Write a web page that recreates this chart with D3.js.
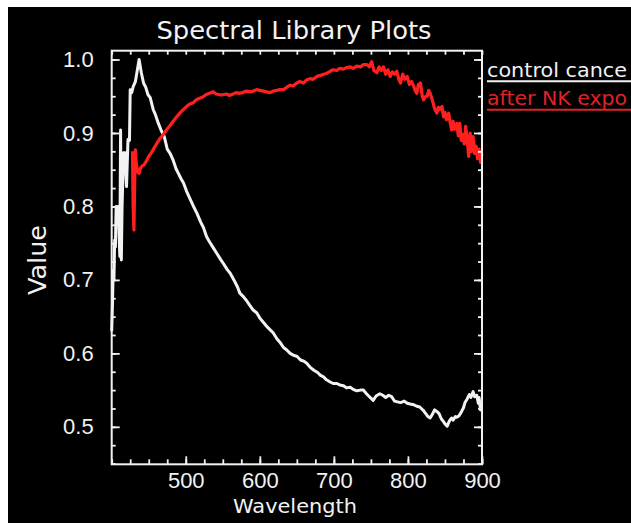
<!DOCTYPE html>
<html>
<head>
<meta charset="utf-8">
<script src="https://cdn.jsdelivr.net/npm/d3@7.9.0/dist/d3.min.js"></script>
<style>
  html, body { margin: 0; padding: 0; background: #fff; }
  svg { display: block; font-family: "DejaVu Sans", sans-serif; }
</style>
</head>
<body>
<svg id="chart" width="631" height="523"></svg>
<script>
// --- data ---
const xMajorTicks = [500, 600, 700, 800, 900];
const yMajorTicks = [0.5, 0.6, 0.7, 0.8, 0.9, 1.0];
const seriesNames = ['control cance', 'after NK expo'];

// control (white) : [wavelength, value]
const controlSeries = [
  [400, 0.63], [401, 0.665], [402, 0.713], [403, 0.70], [404, 0.754], [405, 0.745],
  [406, 0.80], [407, 0.785], [409, 0.80], [410, 0.76], [411, 0.732], [412, 0.904],
  [413, 0.727], [414, 0.80], [416, 0.873], [418, 0.873], [420, 0.827], [422, 0.891],
  [424, 0.89], [425, 0.959], [427, 0.955], [429, 0.963], [432, 0.97], [434, 0.982],
  [437, 1.0], [440, 0.982], [443, 0.968], [446, 0.962], [449, 0.952], [452, 0.948],
  [456, 0.932], [459, 0.925], [463, 0.913], [467, 0.903], [471, 0.895], [475, 0.878],
  [479, 0.872], [483, 0.863], [487, 0.851], [490, 0.845], [494, 0.837], [497, 0.832],
  [501, 0.821], [505, 0.812], [510, 0.801], [515, 0.791], [520, 0.779], [524, 0.771],
  [528, 0.759], [532, 0.752], [537, 0.744], [542, 0.736], [547, 0.728], [551, 0.722],
  [556, 0.714], [560, 0.709], [565, 0.700], [570, 0.690], [573, 0.682], [577, 0.678],
  [582, 0.672], [586, 0.666], [591, 0.659], [596, 0.655], [600, 0.648], [605, 0.642],
  [610, 0.636], [614, 0.632], [618, 0.628], [623, 0.620], [628, 0.614], [632, 0.608],
  [636, 0.605], [641, 0.600], [646, 0.597], [650, 0.596], [655, 0.591], [660, 0.589],
  [663, 0.587], [668, 0.581], [673, 0.577], [678, 0.574], [682, 0.570], [686, 0.568],
  [690, 0.564], [695, 0.561], [699, 0.559], [704, 0.559], [708, 0.557], [713, 0.556],
  [717, 0.553], [722, 0.554], [726, 0.551], [731, 0.549], [736, 0.550], [740, 0.550],
  [744, 0.545], [748, 0.541], [751, 0.538], [753, 0.536], [757, 0.542], [762, 0.545],
  [766, 0.543], [770, 0.540], [774, 0.543], [778, 0.541], [782, 0.535], [786, 0.534],
  [790, 0.533], [795, 0.535], [799, 0.532], [803, 0.531], [808, 0.530], [812, 0.528],
  [816, 0.527], [819, 0.524], [821, 0.522], [824, 0.518], [827, 0.514], [830, 0.512],
  [833, 0.517], [836, 0.523], [839, 0.521], [842, 0.518], [845, 0.511], [848, 0.507],
  [850, 0.504], [853, 0.501], [856, 0.508], [859, 0.512], [861, 0.509], [864, 0.514],
  [866, 0.513], [869, 0.515], [872, 0.520], [875, 0.526], [877, 0.533], [880, 0.538],
  [883, 0.544], [885, 0.540], [888, 0.548], [890, 0.541], [893, 0.543], [895, 0.532],
  [896, 0.540], [898, 0.523], [900, 0.525]
];

// after NK exposure (red) : [wavelength, value]
const nkSeries = [
  [428, 0.875], [429, 0.80], [430, 0.768], [431, 0.83], [432, 0.877], [433, 0.86],
  [435, 0.847], [437, 0.845], [439, 0.852], [441, 0.855], [444, 0.857], [447, 0.862],
  [450, 0.868], [453, 0.872], [457, 0.879], [461, 0.886], [465, 0.892], [469, 0.897],
  [474, 0.904], [478, 0.909], [483, 0.916], [487, 0.921], [492, 0.927], [496, 0.931],
  [501, 0.936], [505, 0.939], [510, 0.941], [514, 0.945], [518, 0.947], [523, 0.949],
  [527, 0.952], [532, 0.954], [537, 0.956], [541, 0.953], [546, 0.952], [550, 0.952],
  [555, 0.953], [559, 0.951], [564, 0.953], [568, 0.955], [573, 0.954], [577, 0.955],
  [582, 0.957], [587, 0.956], [591, 0.957], [596, 0.959], [600, 0.958], [605, 0.957],
  [609, 0.956], [614, 0.955], [618, 0.957], [623, 0.958], [627, 0.959], [632, 0.959],
  [636, 0.962], [641, 0.965], [645, 0.964], [650, 0.968], [654, 0.970], [659, 0.968],
  [663, 0.972], [668, 0.974], [672, 0.973], [677, 0.977], [681, 0.978], [686, 0.980],
  [690, 0.981], [695, 0.984], [699, 0.986], [704, 0.985], [708, 0.988], [713, 0.987],
  [717, 0.989], [722, 0.990], [726, 0.988], [731, 0.991], [736, 0.990], [740, 0.993],
  [745, 0.993], [748, 0.990], [751, 0.997], [754, 0.985], [758, 0.982], [761, 0.990],
  [764, 0.985], [767, 0.990], [770, 0.980], [773, 0.986], [776, 0.977], [779, 0.983],
  [782, 0.980], [785, 0.984], [788, 0.972], [790, 0.968], [793, 0.980], [796, 0.973],
  [799, 0.977], [802, 0.966], [805, 0.970], [808, 0.963], [810, 0.957], [812, 0.954],
  [814, 0.966], [817, 0.968], [819, 0.952], [821, 0.945], [824, 0.950], [826, 0.950],
  [828, 0.958], [830, 0.954], [832, 0.948], [834, 0.941], [836, 0.933], [839, 0.927],
  [841, 0.935], [843, 0.932], [846, 0.936], [848, 0.922], [850, 0.928], [852, 0.918],
  [855, 0.927], [857, 0.914], [859, 0.904], [861, 0.916], [863, 0.905], [866, 0.913],
  [868, 0.896], [870, 0.913], [872, 0.890], [874, 0.898], [876, 0.885], [878, 0.909],
  [880, 0.892], [882, 0.868], [884, 0.900], [886, 0.875], [888, 0.895], [890, 0.872],
  [892, 0.882], [894, 0.865], [896, 0.878], [898, 0.860], [900, 0.872]
];

const WHITE = '#f2f2f2';
const RED = '#ff1f1f';

const svg = d3.select('#chart');

// black canvas (white margin top/left like the screenshot)
svg.append('rect').attr('x', 8).attr('y', 7).attr('width', 631 - 8).attr('height', 523 - 7)
  .attr('fill', '#000');

const plot = { left: 111.7, right: 482, top: 50.7, bottom: 464.3 };

const x = d3.scaleLinear().domain([400, 900]).range([plot.left, plot.right]);
const y = d3.scaleLinear().domain([0.449, 1.012]).range([plot.bottom, plot.top]);

const xMinor = d3.range(400, 901, 25);
const yMinor = d3.range(0.45, 1.0125, 0.025);

// --- lines ---
const line = d3.line().x((d) => x(d[0])).y((d) => y(d[1]));

svg.append('path').datum(controlSeries)
  .attr('d', line).attr('fill', 'none')
  .attr('stroke', WHITE).attr('stroke-width', 3).attr('stroke-linejoin', 'round');

svg.append('path').datum(nkSeries)
  .attr('d', line).attr('fill', 'none')
  .attr('stroke', RED).attr('stroke-width', 3.2).attr('stroke-linejoin', 'round');

// --- axes (ticks drawn inward, mirrored on top/right) ---
function styleAxis(g) {
  g.select('.domain').remove();
  g.selectAll('line').attr('stroke', WHITE).attr('stroke-width', 1.8);
  g.selectAll('text').attr('fill', WHITE);
}

svg.append('g').attr('transform', `translate(0,${plot.bottom})`)
  .call(d3.axisBottom(x).tickValues(xMinor).tickSize(-5).tickFormat(''))
  .call(styleAxis);
svg.append('g').attr('transform', `translate(0,${plot.bottom})`)
  .call(d3.axisBottom(x).tickValues(xMajorTicks).tickSize(-8).tickPadding(8)
    .tickFormat(d3.format('d')))
  .call(styleAxis)
  .call((g) => g.selectAll('text').attr('font-size', 22).attr('dy', '0.71em'));

svg.append('g').attr('transform', `translate(0,${plot.top})`)
  .call(d3.axisTop(x).tickValues(xMinor).tickSize(-4).tickFormat(''))
  .call(styleAxis);

svg.append('g').attr('transform', `translate(${plot.left},0)`)
  .call(d3.axisLeft(y).tickValues(yMinor).tickSize(-4).tickFormat(''))
  .call(styleAxis);
svg.append('g').attr('transform', `translate(${plot.left},0)`)
  .call(d3.axisLeft(y).tickValues(yMajorTicks).tickSize(-8).tickPadding(18)
    .tickFormat(d3.format('.1f')))
  .call(styleAxis)
  .call((g) => g.selectAll('text').attr('font-size', 22));

svg.append('g').attr('transform', `translate(${plot.right},0)`)
  .call(d3.axisRight(y).tickValues(yMinor).tickSize(-4).tickFormat(''))
  .call(styleAxis);
svg.append('g').attr('transform', `translate(${plot.right},0)`)
  .call(d3.axisRight(y).tickValues(yMajorTicks).tickSize(-8).tickFormat(''))
  .call(styleAxis);

// frame
svg.append('rect')
  .attr('x', plot.left).attr('y', plot.top)
  .attr('width', plot.right - plot.left).attr('height', plot.bottom - plot.top)
  .attr('fill', 'none').attr('stroke', WHITE).attr('stroke-width', 2);

// --- titles ---
svg.append('text')
  .attr('x', 294).attr('y', 38.5).attr('text-anchor', 'middle')
  .attr('font-size', 24).attr('fill', WHITE)
  .attr('textLength', 275).attr('lengthAdjust', 'spacingAndGlyphs')
  .text('Spectral Library Plots');

svg.append('text')
  .attr('transform', 'translate(46,260) rotate(-90)')
  .attr('text-anchor', 'middle')
  .attr('font-size', 24).attr('fill', WHITE)
  .attr('textLength', 70).attr('lengthAdjust', 'spacingAndGlyphs')
  .text('Value');

svg.append('text')
  .attr('x', 295).attr('y', 513).attr('text-anchor', 'middle')
  .attr('font-size', 19).attr('fill', WHITE)
  .attr('textLength', 124).attr('lengthAdjust', 'spacingAndGlyphs')
  .text('Wavelength');

// --- legend ---
const legendColors = [WHITE, '#e02228'];
const legend = svg.append('g');
seriesNames.forEach((name, i) => {
  const top = 76.7 + i * 28.5;
  legend.append('text')
    .attr('x', 487).attr('y', top)
    .attr('font-size', 20).attr('fill', legendColors[i])
    .attr('textLength', 140).attr('lengthAdjust', 'spacingAndGlyphs')
    .text(name);
  legend.append('line')
    .attr('x1', 487).attr('x2', 631)
    .attr('y1', top + 4.5).attr('y2', top + 4.5)
    .attr('stroke', legendColors[i]).attr('stroke-width', 2);
});
</script>
</body>
</html>
